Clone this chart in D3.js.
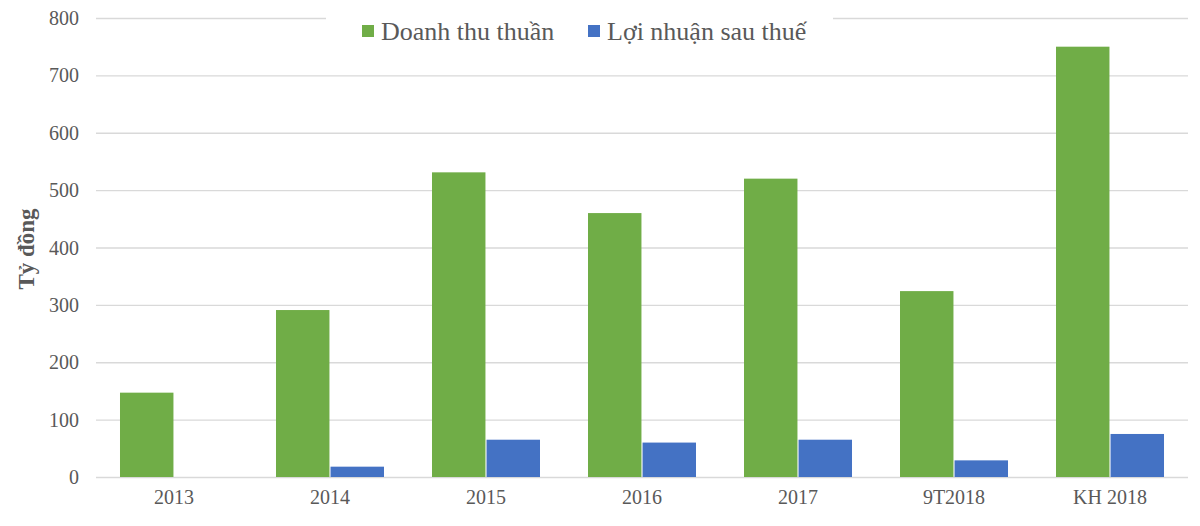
<!DOCTYPE html>
<html><head><meta charset="utf-8">
<script src="https://cdn.jsdelivr.net/npm/d3@7/dist/d3.min.js"></script>
<style>body{margin:0;background:#fff;}svg{display:block;}</style>
</head><body>
<svg id="c" width="1200" height="526"></svg>
<script>
const categories = ["2013","2014","2015","2016","2017","9T2018","KH 2018"];
const revenue = [147, 291, 531, 460, 520, 324, 750];
const profit = [0, 18, 65, 60, 65, 29, 75];
const seriesNames = ["Doanh thu thuần","Lợi nhuận sau thuế"];
const yTicks = [0,100,200,300,400,500,600,700,800];
const colors = ["#70AD47","#4472C4"];

const svg = d3.select("#c");
const L = 96, R = 1188, T = 18, B = 477;
const font = "'Liberation Serif','Times New Roman',serif";

const x = d3.scaleBand().domain(categories).range([L,R]).paddingInner(0.3077).paddingOuter(0.1538);
const x0 = d3.scaleBand().domain(categories).range([L,R]);
const xs = d3.scaleBand().domain([0,1]).range([0, x.bandwidth()]).paddingInner(0.02);
const y = d3.scaleLinear().domain([0,800]).range([B,T]);

// gridlines
svg.append("g").selectAll("line").data(yTicks).join("line")
  .attr("x1",L).attr("x2",R).attr("y1",d=>y(d)+0.5).attr("y2",d=>y(d)+0.5)
  .attr("stroke","#d9d9d9").attr("stroke-width",1.3);

// y tick labels
const yAxis = d3.axisLeft(y).tickValues(yTicks).tickSize(0).tickPadding(0);
const ya = svg.append("g").attr("transform",`translate(79,0)`).call(yAxis);
ya.select(".domain").remove();
ya.attr("font-size",null).attr("font-family",null);
ya.selectAll("text").attr("font-family",font).attr("font-size",20).attr("fill","#595959").attr("dy","0.33em");

// bars
const data = categories.map((c,i)=>({c, v:[revenue[i], profit[i]]}));
const g = svg.append("g");
data.forEach(d=>{
  d.v.forEach((v,k)=>{
    if (v<=0) return;
    g.append("rect")
      .attr("x", x(d.c)+xs(k))
      .attr("y", y(v))
      .attr("width", xs.bandwidth())
      .attr("height", y(0)-y(v))
      .attr("fill", colors[k]);
  });
});

// x axis
const xAxis = d3.axisBottom(x0).tickSize(0).tickPadding(0);
const xa = svg.append("g").attr("transform",`translate(0,${B})`).call(xAxis);
xa.select(".domain").remove();
xa.attr("font-size",null).attr("font-family",null);
xa.selectAll("text").attr("font-family",font).attr("font-size",20).attr("fill","#595959").attr("dy","1.35em");

// y title
svg.append("text").attr("transform","translate(34,249) rotate(-90)")
  .attr("text-anchor","middle").attr("font-family",font).attr("font-size",23)
  .attr("font-weight","bold").attr("fill","#595959").text("Tỷ đồng");

// legend
svg.append("rect").attr("x",326).attr("y",6).attr("width",507).attr("height",40).attr("fill","#fff");
const leg = [{x:362, tx:381},{x:588, tx:607}];
leg.forEach((l,k)=>{
  svg.append("rect").attr("x",l.x).attr("y",25).attr("width",12).attr("height",12).attr("fill",colors[k]);
  svg.append("text").attr("x",l.tx).attr("y",40).attr("font-family",font).attr("font-size",26)
    .attr("fill","#595959").text(seriesNames[k]);
});
</script>
</body></html>
